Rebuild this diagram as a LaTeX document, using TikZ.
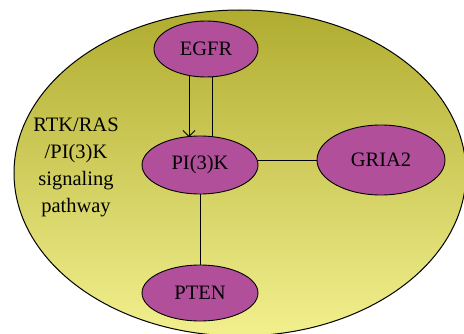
\documentclass[tikz,border=0pt]{standalone}
\usepackage{fontspec}
\setmainfont{Liberation Serif}
\usetikzlibrary{shapes.geometric,arrows.meta}
\definecolor{olivetop}{RGB}{176,172,48}
\definecolor{olivebot}{RGB}{242,240,142}
\definecolor{gene}{RGB}{178,79,155}
\tikzset{
  gene/.style={ellipse, draw=black, line width=0.9pt, fill=gene, inner sep=0pt, font=\fontsize{20.5}{24}\selectfont},
  link/.style={draw=black, line width=0.8pt},
}
\begin{document}
\begin{tikzpicture}[x=1pt,y=1pt]
\useasboundingbox (0,0) rectangle (464,333);
\path[draw=black, line width=1pt, top color=olivetop, bottom color=olivebot] (240,160) ellipse [x radius=226, y radius=163];
\node[gene, minimum width=104, minimum height=56] (EGFR) at (206,284) {EGFR};
\node[gene, minimum width=116, minimum height=58] (PI) at (200,168) {PI(3)K};
\node[gene, minimum width=128, minimum height=70] (GRIA) at (381,173) {GRIA2};
\node[gene, minimum width=116, minimum height=56] (PTEN) at (200,40) {PTEN};
\node[align=center, font=\fontsize{20.5}{27}\selectfont] (label) at (76,166) {RTK/RAS\\/PI(3)K\\signaling\\pathway};
\draw[link, -{Straight Barb[length=6pt,width=12pt]}] ([xshift=-17pt,yshift=1.5pt]EGFR.south) -- ([xshift=-11pt,yshift=-1.5pt]PI.north);
\draw[link] ([xshift=6pt]EGFR.south) -- ([xshift=12pt,yshift=-0.5pt]PI.north);
\draw[link] (GRIA.west) -- ([xshift=-0.5pt]GRIA.west -| PI.east);
\draw[link] (PI) -- (PTEN);
\end{tikzpicture}
\end{document}
